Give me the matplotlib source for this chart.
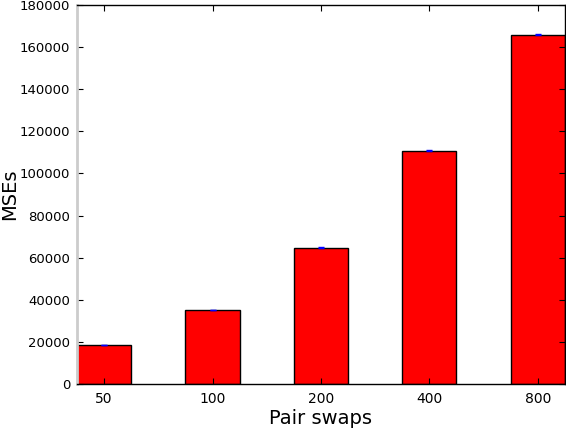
import numpy as np
import matplotlib
matplotlib.use("Agg")
import matplotlib.pyplot as plt

swaps = ["50", "100", "200", "400", "800"]
mses = [18500, 35200, 64700, 110800, 165900]
errs = [100, 150, 200, 150, 250]

fig = plt.figure(figsize=(5.66, 4.28), dpi=100)
ax = fig.add_axes([77 / 566, 1 - 384 / 428, 1 - 77 / 566 - 0.002, (384 - 5) / 428])

x = np.arange(len(swaps))
ax.bar(x, mses, width=0.5, color="red", edgecolor="black", linewidth=1.0,
       yerr=errs, ecolor="blue", error_kw=dict(elinewidth=1.0, capsize=2.5, capthick=1.0))

ax.set_xlim(-0.25, 4.25)
ax.set_ylim(0, 180000)
ax.set_yticks(np.arange(0, 180001, 20000))
ax.set_xticks(x)
ax.set_xticklabels(swaps)
ax.tick_params(direction="in", length=4, width=0.8, top=True, right=True,
               labelsize=9.5, pad=5)
ax.tick_params(axis="x", labelsize=10, pad=6)
ax.spines["left"].set_color("#cccccc")
ax.spines["left"].set_linewidth(2)
for s in ["top", "bottom", "right"]:
    ax.spines[s].set_linewidth(1.0)

ax.set_xlabel("Pair swaps", fontsize=14, labelpad=2)
ax.set_ylabel("MSEs", fontsize=14)
ax.yaxis.set_label_coords(-0.118, 0.5)

fig.savefig("out.png", dpi=100)
